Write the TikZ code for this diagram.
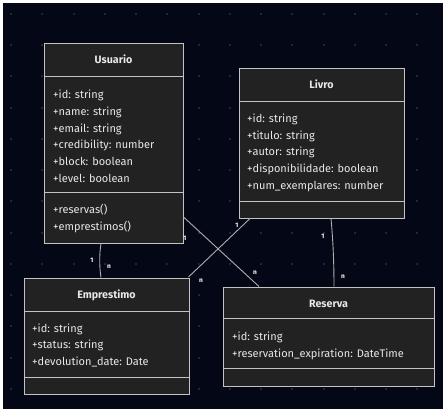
\documentclass[tikz,border=0pt]{standalone}
\usepackage{fontspec}
\setmainfont{Fira Sans}
\definecolor{bg}{RGB}{3,7,22}
\definecolor{boxfill}{RGB}{34,34,34}
\definecolor{boxline}{RGB}{195,195,195}
\definecolor{txt}{RGB}{232,232,232}
\definecolor{dotc}{RGB}{34,37,50}
\definecolor{edge}{RGB}{175,175,175}
\begin{document}
\begin{tikzpicture}[x=1pt,y=-1pt,
 classbox/.style={draw=boxline, fill=boxfill, line width=1pt, rectangle, inner sep=0pt, anchor=north west},
 sepline/.style={draw=boxline, line width=1pt},
 title/.style={text=txt, font=\fontsize{10.7}{12}\selectfont\bfseries, anchor=base, inner sep=0pt},
 member/.style={text=txt, font=\fontsize{11}{12}\selectfont, anchor=base west, inner sep=0pt},
 rel/.style={draw=edge, line width=0.9pt},
 mult/.style={text=white, font=\fontsize{6.5}{7}\selectfont\bfseries, inner sep=0pt}]
\useasboundingbox (0,0) rectangle (448,417);
\fill[white] (0,0) rectangle (448,417);
\fill[bg] (3,3) rectangle (443,409);
\foreach \i in {0,...,13} \foreach \j in {0,...,12} \fill[dotc] ({10+31.25*\i},{13+31.25*\j}) rectangle +(2,2);

% Usuario
\node[classbox, minimum width=139pt, minimum height=200pt] (usu) at (44,43) {};
\draw[sepline] (44,77) -- (183,77);
\draw[sepline] (44,193) -- (183,193);
\node[title] (usut) at (113.5,64) {Usuario};
\node[member] (u1) at (53,99) {+id: string};
\node[member] (u2) at (53,116) {+name: string};
\node[member] (u3) at (53,132.5) {+email: string};
\node[member] (u4) at (53,149) {+credibility: number};
\node[member] (u5) at (53,166) {+block: boolean};
\node[member] (u6) at (53,182.5) {+level: boolean};
\node[member] (u7) at (53,214) {+reservas()};
\node[member] (u8) at (53,231) {+emprestimos()};

% Livro
\node[classbox, minimum width=165pt, minimum height=150pt] (liv) at (239,68) {};
\draw[sepline] (239,102) -- (404,102);
\draw[sepline] (239,202) -- (404,202);
\node[title] (livt) at (321.5,89) {Livro};
\node[member] (l1) at (247,123) {+id: string};
\node[member] (l2) at (247,139.5) {+titulo: string};
\node[member] (l3) at (247,156) {+autor: string};
\node[member] (l4) at (247,173) {+disponibilidade: boolean};
\node[member] (l5) at (247,189.5) {+num\_exemplares: number};

% Emprestimo
\node[classbox, minimum width=165pt, minimum height=116pt] (emp) at (24,278) {};
\draw[sepline] (24,312) -- (189,312);
\draw[sepline] (24,378) -- (189,378);
\node[title] (empt) at (106.5,299) {Emprestimo};
\node[member] (e1) at (32,332.5) {+id: string};
\node[member] (e2) at (32,349) {+status: string};
\node[member] (e3) at (32,366) {+devolution\_date: Date};

% Reserva
\node[classbox, minimum width=211pt, minimum height=99pt] (res) at (223,287) {};
\draw[sepline] (223,319) -- (434,319);
\draw[sepline] (223,369) -- (434,369);
\node[title] (rest) at (328.5,307.5) {Reserva};
\node[member] (r1) at (232,341) {+id: string};
\node[member] (r2) at (232,358) {+reservation\_expiration: DateTime};

% connector ends
\coordinate (ue1) at (101,243.5);
\coordinate (ue2) at (101,277.5);
\coordinate (ur1) at (183.5,217);
\coordinate (ur2) at (259,286.5);
\coordinate (le1) at (250,218.5);
\coordinate (le2) at (188.5,277);
\coordinate (lr1) at (331,218.5);
\coordinate (lr2) at (334,286.5);

\draw[rel] (ue1) .. controls (99.3,254) and (99.3,267) .. (ue2);
\draw[rel] (ur1) -- (ur2);
\draw[rel] (le1) -- (le2);
\draw[rel] (lr1) .. controls (333,240) and (334,262) .. (lr2);

\node[mult] (m1) at (92,260) {1};
\node[mult] (m2) at (109,267) {n};
\node[mult] (m3) at (185,238) {1};
\node[mult] (m4) at (255,273) {n};
\node[mult] (m5) at (237,225) {1};
\node[mult] (m6) at (201,281) {n};
\node[mult] (m7) at (323,236) {1};
\node[mult] (m8) at (343,277) {n};
\end{tikzpicture}
\end{document}
